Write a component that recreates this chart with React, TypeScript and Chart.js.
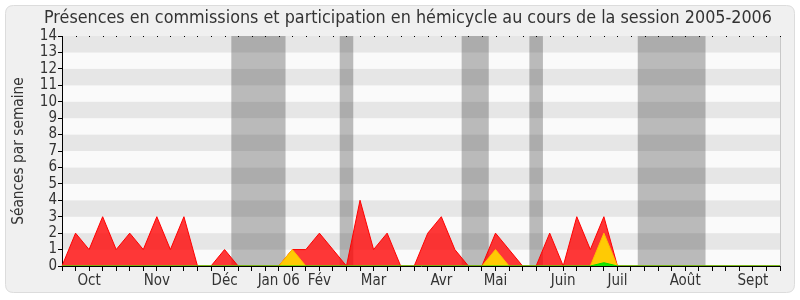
import React, { useEffect, useRef } from 'react';
import { Chart, registerables } from 'chart.js';
Chart.register(...registerables);

const titleText = 'Présences en commissions et participation en hémicycle au cours de la session 2005-2006';
const yTitle = 'Séances par semaine';

// 54 weeks (index 0..53)
const weekLabels = ['S0','S1','S2','S3','S4','S5','S6','S7','S8','S9','S10','S11','S12','S13','S14','S15','S16','S17','S18','S19','S20','S21','S22','S23','S24','S25','S26','S27','S28','S29','S30','S31','S32','S33','S34','S35','S36','S37','S38','S39','S40','S41','S42','S43','S44','S45','S46','S47','S48','S49','S50','S51','S52','S53'];

const monthTickIndex = [2, 7, 12, 16, 19, 23, 28, 32, 37, 41, 46, 51];
const monthTickLabels = ['Oct', 'Nov', 'Déc', 'Jan 06', 'Fév', 'Mar', 'Avr', 'Mai', 'Juin', 'Juil', 'Août', 'Sept'];

const redValues = [0,2,1,3,1,2,1,3,1,3,0,0,1,0,0,0,0,1,1,2,1,0,4,1,2,0,0,2,3,1,0,0,2,1,0,0,2,0,3,1,3,0,0,0,0,0,0,0,0,0,0,0,0,0];
const yellowValues = [0,0,0,0,0,0,0,0,0,0,0,0,0,0,0,0,0,1,0,0,0,0,0,0,0,0,0,0,0,0,0,0,1,0,0,0,0,0,0,0,2,0,0,0,0,0,0,0,0,0,0,0,0,0];
const greenValues = [0,0,0,0,0,0,0,0,0,0,0,0,0,0,0,0,0,0,0,0,0,0,0,0,0,0,0,0,0,0,0,0,0,0,0,0,0,0,0,0,0.2,0,0,0,0,0,0,0,0,0,0,0,0,0];

const vacationStart = [12.5, 20.5, 29.5, 34.5, 42.5];
const vacationEnd = [16.5, 21.5, 31.5, 35.5, 47.5];

const FONT = '"DejaVu Sans Condensed", "DejaVu Sans", sans-serif';

const decorPlugin = {
  id: 'decor',
  beforeDraw(chart: any) {
    const { ctx, chartArea } = chart;
    const xs = chart.scales.x;
    const ys = chart.scales.y;
    ctx.save();
    ctx.fillStyle = '#ffffff';
    ctx.fillRect(0, 0, chart.width, chart.height);
    // card
    const r = 8, cx = 5.5, cy = 5.5, cw = 789, ch = 287;
    ctx.beginPath();
    ctx.moveTo(cx + r, cy);
    ctx.lineTo(cx + cw - r, cy);
    ctx.quadraticCurveTo(cx + cw, cy, cx + cw, cy + r);
    ctx.lineTo(cx + cw, cy + ch - r);
    ctx.quadraticCurveTo(cx + cw, cy + ch, cx + cw - r, cy + ch);
    ctx.lineTo(cx + r, cy + ch);
    ctx.quadraticCurveTo(cx, cy + ch, cx, cy + ch - r);
    ctx.lineTo(cx, cy + r);
    ctx.quadraticCurveTo(cx, cy, cx + r, cy);
    ctx.closePath();
    ctx.fillStyle = '#f0f0f0';
    ctx.fill();
    ctx.strokeStyle = '#dcdcdc';
    ctx.lineWidth = 1;
    ctx.stroke();
    // stripes
    for (let v = 0; v < 14; v++) {
      const y0 = ys.getPixelForValue(v);
      const y1 = ys.getPixelForValue(v + 1);
      ctx.fillStyle = v % 2 === 1 ? '#e6e6e6' : '#fafafa';
      ctx.fillRect(chartArea.left, y1, chartArea.right - chartArea.left, y0 - y1);
    }
    // vacation bands
    ctx.fillStyle = 'rgba(40,40,40,0.3)';
    for (let i = 0; i < vacationStart.length; i++) {
      const x0 = xs.getPixelForValue(vacationStart[i]);
      const x1 = xs.getPixelForValue(vacationEnd[i]);
      ctx.fillRect(x0, chartArea.top, x1 - x0, chartArea.bottom - chartArea.top);
    }
    // right border
    ctx.fillStyle = '#c8c8c8';
    ctx.fillRect(chartArea.right, chartArea.top, 1, chartArea.bottom - chartArea.top);
    // top dots
    ctx.fillStyle = '#000';
    for (let i = 0; i < weekLabels.length; i++) {
      const x = Math.round(xs.getPixelForValue(i));
      ctx.fillRect(x, Math.round(chartArea.top), 1, 1);
    }
    ctx.restore();
  },
  afterDraw(chart: any) {
    const { ctx, chartArea } = chart;
    ctx.save();
    ctx.fillStyle = '#333';
    ctx.font = `17.8px ${FONT}`;
    ctx.textAlign = 'center';
    ctx.textBaseline = 'middle';
    ctx.fillText(titleText, 408, 18);
    ctx.translate(19, (chartArea.top + chartArea.bottom) / 2);
    ctx.rotate(-Math.PI / 2);
    ctx.font = `15.3px ${FONT}`;
    ctx.fillText(yTitle, 0, 0);
    ctx.restore();
  },
};

export default function App() {
  const ref = useRef<HTMLCanvasElement>(null);
  useEffect(() => {
    document.body.style.margin = '0';
    const chart = new Chart(ref.current!, {
      type: 'line',
      data: {
        labels: weekLabels,
        datasets: [
          { label: 'green', data: greenValues, borderColor: '#00dd00', backgroundColor: 'rgba(0,230,0,0.9)', fill: 'origin', borderWidth: 1, pointRadius: 0, tension: 0 },
          { label: 'yellow', data: yellowValues, borderColor: '#ffbb00', backgroundColor: 'rgba(255,215,0,0.92)', fill: 'origin', borderWidth: 1, pointRadius: 0, tension: 0 },
          { label: 'red', data: redValues, borderColor: '#ff0000', backgroundColor: 'rgba(255,0,0,0.78)', fill: 'origin', borderWidth: 1, pointRadius: 0, tension: 0 },
        ],
      },
      options: {
        responsive: false,
        animation: false,
        devicePixelRatio: 1,
        layout: { padding: { top: 36, right: 20, left: 0, bottom: 0 } },
        plugins: { legend: { display: false }, tooltip: { enabled: false }, title: { display: false } },
        scales: {
          x: {
            offset: false,
            grid: { display: true, drawOnChartArea: false, drawTicks: true, tickLength: 5, color: '#000', tickColor: '#000' },
            border: { display: true, color: '#000' },
            ticks: {
              autoSkip: false,
              maxRotation: 0,
              padding: 1,
              color: '#333',
              font: { family: FONT, size: 15 },
              callback: (_v: any, i: number) => {
                const k = monthTickIndex.indexOf(i);
                return k >= 0 ? monthTickLabels[k] : '';
              },
            },
            afterFit: (s: any) => { s.height = 34; },
          },
          y: {
            min: 0,
            max: 14,
            grid: { display: true, drawOnChartArea: false, drawTicks: true, tickLength: 4, color: '#000', tickColor: '#000' },
            border: { display: true, color: '#000' },
            ticks: { stepSize: 1, autoSkip: false, padding: 1, color: '#333', font: { family: FONT, size: 15 } },
            afterFit: (s: any) => { s.width = 62; },
          },
        },
      },
      plugins: [decorPlugin],
    });
    return () => chart.destroy();
  }, []);
  return <canvas ref={ref} width={800} height={300} style={{ display: 'block' }} />;
}
